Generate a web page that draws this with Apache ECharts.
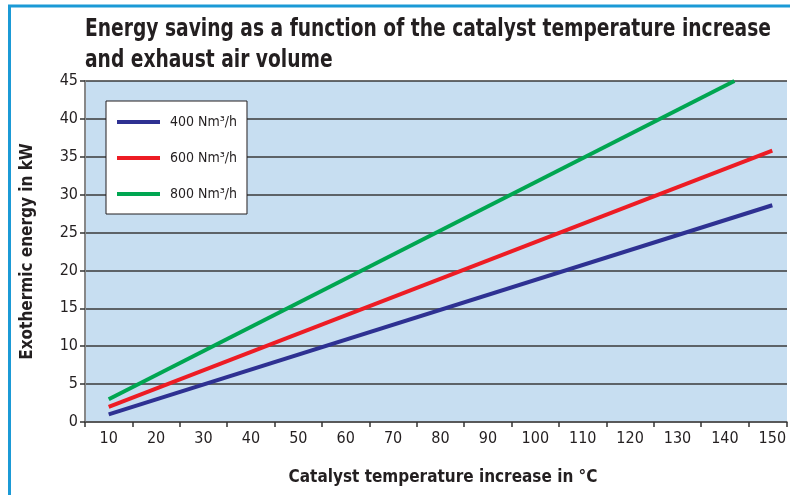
<!DOCTYPE html>
<html>
<head>
<meta charset="utf-8">
<script src="https://cdn.jsdelivr.net/npm/echarts@6/dist/echarts.min.js"></script>
<style>
  html, body { margin: 0; padding: 0; background: #fff; }
  #chart { width: 790px; height: 495px; }
</style>
</head>
<body>
<div id="chart"></div>
<script>
// values (straight lines, end points)
const seriesNames = ['400 Nm³/h', '600 Nm³/h', '800 Nm³/h'];
const seriesColors = ['#2e3192', '#ed1c24', '#00a651'];
const flow400 = [[10, 1.0], [150, 28.6]];
const flow600 = [[10, 2.0], [150, 35.8]];
const flow800 = [[10, 3.0], [142, 45.0]];
const titleLines = 'Energy saving as a function of the catalyst temperature increase\nand exhaust air volume';

const FONT = '"DejaVu Sans Condensed", "Liberation Sans Narrow", sans-serif';

const chart = echarts.init(document.getElementById('chart'));

const option = {
    animation: false,
    graphic: [
        // blue frame round the figure
        { type: 'line', shape: { x1: 8, y1: 6, x2: 790, y2: 6 }, style: { stroke: '#1b9ad6', lineWidth: 3 } },
        { type: 'line', shape: { x1: 9.5, y1: 5, x2: 9.5, y2: 495 }, style: { stroke: '#1b9ad6', lineWidth: 3 } },
        // title, squeezed to the condensed width of the original face
        {
            type: 'text',
            x: 85,
            y: 14,
            scaleX: 0.83,
            style: {
                text: titleLines,
                fontFamily: FONT,
                fontSize: 25,
                fontWeight: 'bold',
                lineHeight: 31,
                fill: '#231f20'
            }
        }
    ],
    legend: {
        orient: 'vertical',
        left: 106,
        top: 101,
        data: seriesNames,
        icon: 'rect',
        itemWidth: 43,
        itemHeight: 4,
        itemGap: 20,
        padding: [13, 10, 12, 11],
        backgroundColor: '#ffffff',
        borderColor: '#231f20',
        borderWidth: 1,
        textStyle: {
            fontFamily: FONT,
            fontSize: 14,
            lineHeight: 16,
            color: '#231f20',
            padding: [0, 0, 0, 5]
        }
    },
    grid: {
        left: 85,
        right: 0,
        top: 81,
        bottom: 73,
        show: true,
        backgroundColor: '#c7def1',
        borderWidth: 0
    },
    xAxis: [
        {
            // ticks between the labels
            type: 'value',
            min: 5,
            max: 153.1,
            interval: 10,
            axisLine: { lineStyle: { color: '#555', width: 1.5 } },
            axisTick: { show: true, length: 5, lineStyle: { color: '#333', width: 1.5 } },
            axisLabel: { show: false },
            splitLine: { show: false },
            name: 'Catalyst temperature increase in °C',
            nameLocation: 'middle',
            nameGap: 47,
            nameTextStyle: {
                fontFamily: FONT,
                fontSize: 17,
                fontWeight: 'bold',
                color: '#231f20',
                padding: [0, 0, 0, 14]
            }
        },
        {
            // labels at the tens
            type: 'value',
            min: 5,
            max: 153.1,
            interval: 5,
            position: 'bottom',
            axisLine: { show: false },
            axisTick: { show: false },
            splitLine: { show: false },
            axisLabel: {
                margin: 9,
                fontFamily: FONT,
                fontSize: 16,
                color: '#231f20',
                formatter: v => (Math.abs(v % 10) < 1e-6 ? String(v) : '')
            }
        }
    ],
    yAxis: {
        type: 'value',
        min: 0,
        max: 45,
        interval: 5,
        axisLine: { show: true, lineStyle: { color: '#888', width: 2 } },
        axisTick: { show: true, length: 5, lineStyle: { color: '#333', width: 1.5 } },
        axisLabel: {
            margin: 7,
            fontFamily: FONT,
            fontSize: 16,
            color: '#231f20'
        },
        splitLine: { show: true, lineStyle: { color: '#3a3a3a', width: 1.5 } },
        name: 'Exothermic energy in kW',
        nameLocation: 'middle',
        nameGap: 49,
        nameTextStyle: {
            fontFamily: FONT,
            fontSize: 17,
            fontWeight: 'bold',
            color: '#231f20'
        }
    },
    series: [
        { name: seriesNames[0], type: 'line', data: flow400, showSymbol: false, color: seriesColors[0], lineStyle: { width: 4 } },
        { name: seriesNames[1], type: 'line', data: flow600, showSymbol: false, color: seriesColors[1], lineStyle: { width: 4 } },
        { name: seriesNames[2], type: 'line', data: flow800, showSymbol: false, color: seriesColors[2], lineStyle: { width: 4 } }
    ]
};

chart.setOption(option);
</script>
</body>
</html>
